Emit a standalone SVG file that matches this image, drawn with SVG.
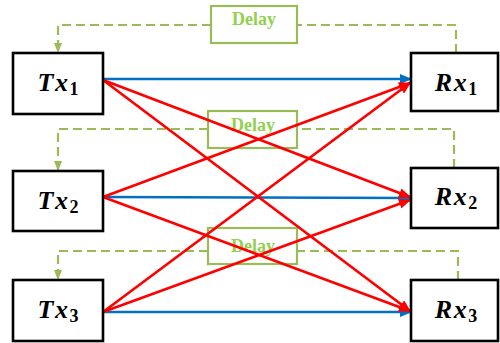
<svg xmlns="http://www.w3.org/2000/svg" width="500" height="343" viewBox="0 0 500 343">
  <style>
    .box { fill: #ffffff; stroke: #000000; stroke-width: 2.6; }
    .delay { fill: #ffffff; stroke: #9BBB59; stroke-width: 2.2; }
    .delay-text { font-family: "Liberation Serif", serif; font-weight: bold; font-size: 18px; fill: #92D050; text-anchor: middle; }
    .lbl { font-family: "Liberation Serif", serif; font-weight: bold; font-style: italic; font-size: 26px; fill: #000000; text-anchor: middle; letter-spacing: 1.5px; }
    .sub { font-style: normal; font-size: 18px; letter-spacing: 0; }
    .fb { fill: none; stroke: #9BBB59; stroke-width: 2.2; stroke-dasharray: 9 5; }
    .direct { stroke: #0070C0; stroke-width: 2.7; fill: none; }
    .cross { stroke: #FF0000; stroke-width: 2.7; fill: none; }
  </style>
  <defs>
    <marker id="ah-blue" markerUnits="userSpaceOnUse" markerWidth="12" markerHeight="10" refX="11" refY="5" orient="auto">
      <path d="M0,0 L12,5 L0,10 z" fill="#0070C0"/>
    </marker>
    <marker id="ah-red" markerUnits="userSpaceOnUse" markerWidth="12" markerHeight="10" refX="11" refY="5" orient="auto">
      <path d="M0,0 L12,5 L0,10 z" fill="#FF0000"/>
    </marker>
    <marker id="ah-green" markerUnits="userSpaceOnUse" markerWidth="10" markerHeight="8" refX="9" refY="4" orient="auto">
      <path d="M0,0 L10,4 L0,8 z" fill="#9BBB59"/>
    </marker>
  </defs>

  <!-- feedback paths through the delay blocks -->
  <g id="feedback">
    <path class="fb" d="M456,53 V25 H297"/>
    <path class="fb" d="M211,25 H58 V52" marker-end="url(#ah-green)"/>
    <path class="fb" d="M454,168 V129 H297"/>
    <path class="fb" d="M208,129 H58 V170" marker-end="url(#ah-green)"/>
    <path class="fb" d="M458,280 V251 H297"/>
    <path class="fb" d="M208,251 H58 V279" marker-end="url(#ah-green)"/>
  </g>

  <g id="delay1">
    <rect class="delay" x="211" y="6" width="86" height="37"/>
    <text class="delay-text" x="254" y="25">Delay</text>
  </g>
  <g id="delay2">
    <rect class="delay" x="208" y="111" width="89" height="37"/>
    <text class="delay-text" x="253" y="131">Delay</text>
  </g>
  <g id="delay3">
    <rect class="delay" x="208" y="228" width="89" height="36"/>
    <text class="delay-text" x="253" y="252">Delay</text>
  </g>

  <!-- links between transmitters and receivers -->
  <g id="connectors">
    <line class="direct" x1="103" y1="79" x2="411" y2="79" marker-end="url(#ah-blue)"/>
    <line class="direct" x1="103" y1="197" x2="411" y2="198" marker-end="url(#ah-blue)"/>
    <line class="direct" x1="103" y1="312" x2="411" y2="312" marker-end="url(#ah-blue)"/>

    <line class="cross" x1="103" y1="80" x2="410" y2="197" marker-end="url(#ah-red)"/>
    <line class="cross" x1="103" y1="80" x2="410" y2="311" marker-end="url(#ah-red)"/>
    <line class="cross" x1="103" y1="197" x2="410" y2="83" marker-end="url(#ah-red)"/>
    <line class="cross" x1="103" y1="197" x2="410" y2="311" marker-end="url(#ah-red)"/>
    <line class="cross" x1="103" y1="312" x2="410" y2="83" marker-end="url(#ah-red)"/>
    <line class="cross" x1="103" y1="312" x2="410" y2="200" marker-end="url(#ah-red)"/>
  </g>

  <g id="tx1">
    <rect class="box" x="13" y="53" width="90" height="61"/>
    <text class="lbl" x="58" y="91">Tx<tspan class="sub" dy="4">1</tspan></text>
  </g>
  <g id="tx2">
    <rect class="box" x="13" y="171" width="90" height="60"/>
    <text class="lbl" x="58" y="209">Tx<tspan class="sub" dy="4">2</tspan></text>
  </g>
  <g id="tx3">
    <rect class="box" x="13" y="280" width="90" height="61"/>
    <text class="lbl" x="58" y="318">Tx<tspan class="sub" dy="4">3</tspan></text>
  </g>

  <g id="rx1">
    <rect class="box" x="411" y="53" width="87" height="58"/>
    <text class="lbl" x="456" y="91">Rx<tspan class="sub" dy="4">1</tspan></text>
  </g>
  <g id="rx2">
    <rect class="box" x="411" y="168" width="87" height="60"/>
    <text class="lbl" x="456" y="205">Rx<tspan class="sub" dy="4">2</tspan></text>
  </g>
  <g id="rx3">
    <rect class="box" x="411" y="280" width="87" height="61"/>
    <text class="lbl" x="456" y="318">Rx<tspan class="sub" dy="4">3</tspan></text>
  </g>
</svg>
